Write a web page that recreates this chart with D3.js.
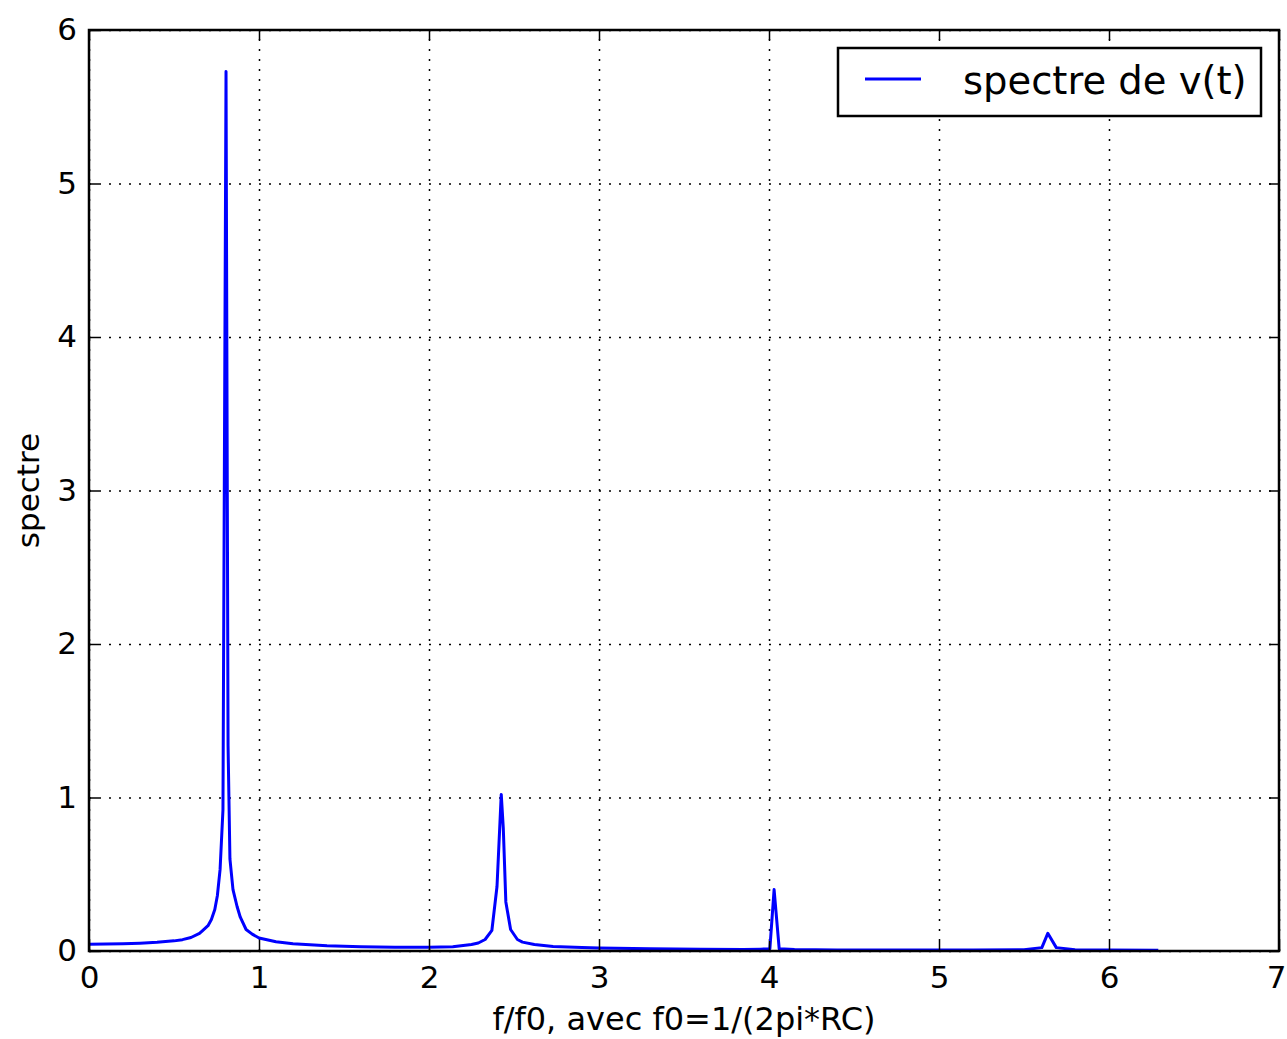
<!DOCTYPE html>
<html lang="fr">
<head>
<meta charset="utf-8">
<title>spectre de v(t)</title>
<script src="https://cdn.jsdelivr.net/npm/d3@7"></script>
<style>
  body { margin: 0; background: #fff; }
  text { font-family: "DejaVu Sans", sans-serif; fill: #000; }
</style>
</head>
<body>
<script>
// frequency (f/f0) and spectrum values
var freq = [0.00, 0.10, 0.20, 0.30, 0.40, 0.50, 0.55, 0.60, 0.65, 0.67,
            0.70, 0.72, 0.74, 0.755, 0.771, 0.788, 0.806, 0.818, 0.829, 0.847,
            0.871, 0.89, 0.924, 0.96, 1.00, 1.10, 1.20, 1.40, 1.60, 1.80,
            2.00, 2.14, 2.25, 2.29, 2.33, 2.37, 2.40, 2.425, 2.437, 2.452,
            2.48, 2.52, 2.55, 2.62, 2.73, 2.90, 3.00, 3.30, 3.60, 3.85,
            3.95, 4.005, 4.03, 4.06, 4.15, 4.40, 4.80, 5.20, 5.50, 5.605,
            5.64, 5.69, 5.80, 6.00, 6.29];
var spectre = [0.044, 0.045, 0.047, 0.051, 0.057, 0.066, 0.074, 0.088, 0.115, 0.135,
               0.165, 0.205, 0.27, 0.36, 0.53, 0.92, 5.73, 1.34, 0.60, 0.40,
               0.29, 0.22, 0.14, 0.11, 0.085, 0.060, 0.047, 0.034, 0.027, 0.024,
               0.024, 0.028, 0.042, 0.052, 0.075, 0.135, 0.42, 1.02, 0.80, 0.32,
               0.14, 0.075, 0.058, 0.042, 0.030, 0.022, 0.019, 0.015, 0.012, 0.010,
               0.012, 0.014, 0.40, 0.014, 0.009, 0.007, 0.006, 0.006, 0.008, 0.022,
               0.115, 0.022, 0.008, 0.006, 0.005];
var xTicks = [0, 1, 2, 3, 4, 5, 6, 7];
var yTicks = [0, 1, 2, 3, 4, 5, 6];
var seriesName = "spectre de v(t)";

var W = 1287, H = 1039;
var mLeft = 89, mRight = 1279, mTop = 30, mBottom = 951;

var svg = d3.select("body").append("svg")
    .attr("width", W)
    .attr("height", H);

var x = d3.scaleLinear().domain([0, 7]).range([mLeft, mRight]);
var y = d3.scaleLinear().domain([0, 6]).range([mBottom, mTop]);

// grid
var grid = svg.append("g");
grid.append("g")
    .attr("transform", "translate(0," + mBottom + ")")
    .call(d3.axisBottom(x).tickValues(xTicks).tickSize(-(mBottom - mTop)).tickFormat(""));
grid.append("g")
    .attr("transform", "translate(" + mLeft + ",0)")
    .call(d3.axisLeft(y).tickValues(yTicks).tickSize(-(mRight - mLeft)).tickFormat(""));
grid.selectAll(".domain").remove();
grid.selectAll("line")
    .attr("stroke", "#000")
    .attr("stroke-width", 1.5)
    .attr("stroke-dasharray", "2,8");

// spectrum line
var pts = freq.map(function(f, i) { return [f, spectre[i]]; });
var line = d3.line()
    .x(function(d) { return x(d[0]); })
    .y(function(d) { return y(d[1]); });
svg.append("path")
    .datum(pts)
    .attr("d", line)
    .attr("fill", "none")
    .attr("stroke", "#0000ff")
    .attr("stroke-width", 3)
    .attr("stroke-linejoin", "round");

// axes, ticks pointing inward
var tl = 10;
var xa = svg.append("g")
    .attr("transform", "translate(0," + mBottom + ")")
    .call(d3.axisBottom(x).tickValues(xTicks).tickSize(-tl).tickPadding(15).tickFormat(d3.format("d")));
var ya = svg.append("g")
    .attr("transform", "translate(" + mLeft + ",0)")
    .call(d3.axisLeft(y).tickValues(yTicks).tickSize(-tl).tickPadding(12).tickFormat(d3.format("d")));
var xt = svg.append("g")
    .attr("transform", "translate(0," + mTop + ")")
    .call(d3.axisTop(x).tickValues(xTicks).tickSize(-tl).tickFormat(""));
var yr = svg.append("g")
    .attr("transform", "translate(" + mRight + ",0)")
    .call(d3.axisRight(y).tickValues(yTicks).tickSize(-tl).tickFormat(""));
[xa, ya, xt, yr].forEach(function(a) {
    a.select(".domain").remove();
    a.selectAll("line").attr("stroke", "#000").attr("stroke-width", 1.5);
    a.selectAll("text")
        .attr("font-size", 31)
        .style("font-family", "'DejaVu Sans', sans-serif")
        .attr("fill", "#000");
});
// last x label sits at the right edge, keep it inside the picture
xa.selectAll(".tick text").filter(function(d) { return d === 7; })
    .attr("dx", -3);

// frame
svg.append("rect")
    .attr("x", mLeft).attr("y", mTop)
    .attr("width", mRight - mLeft).attr("height", mBottom - mTop)
    .attr("fill", "none")
    .attr("stroke", "#000")
    .attr("stroke-width", 2.5);

// axis labels
svg.append("text")
    .attr("x", (mLeft + mRight) / 2)
    .attr("y", 1030)
    .attr("text-anchor", "middle")
    .attr("font-size", 32)
    .text("f/f0, avec f0=1/(2pi*RC)");
svg.append("text")
    .attr("transform", "translate(39," + (mTop + mBottom) / 2 + ") rotate(-90)")
    .attr("text-anchor", "middle")
    .attr("font-size", 31)
    .text("spectre");

// legend
var lg = svg.append("g");
lg.append("rect")
    .attr("x", 838).attr("y", 48)
    .attr("width", 423).attr("height", 68)
    .attr("fill", "#fff")
    .attr("stroke", "#000")
    .attr("stroke-width", 2.5);
lg.append("line")
    .attr("x1", 865).attr("x2", 921)
    .attr("y1", 79).attr("y2", 79)
    .attr("stroke", "#0000ff")
    .attr("stroke-width", 3);
lg.append("text")
    .attr("x", 963)
    .attr("y", 94)
    .attr("font-size", 38.5)
    .text(seriesName);
</script>
</body>
</html>
